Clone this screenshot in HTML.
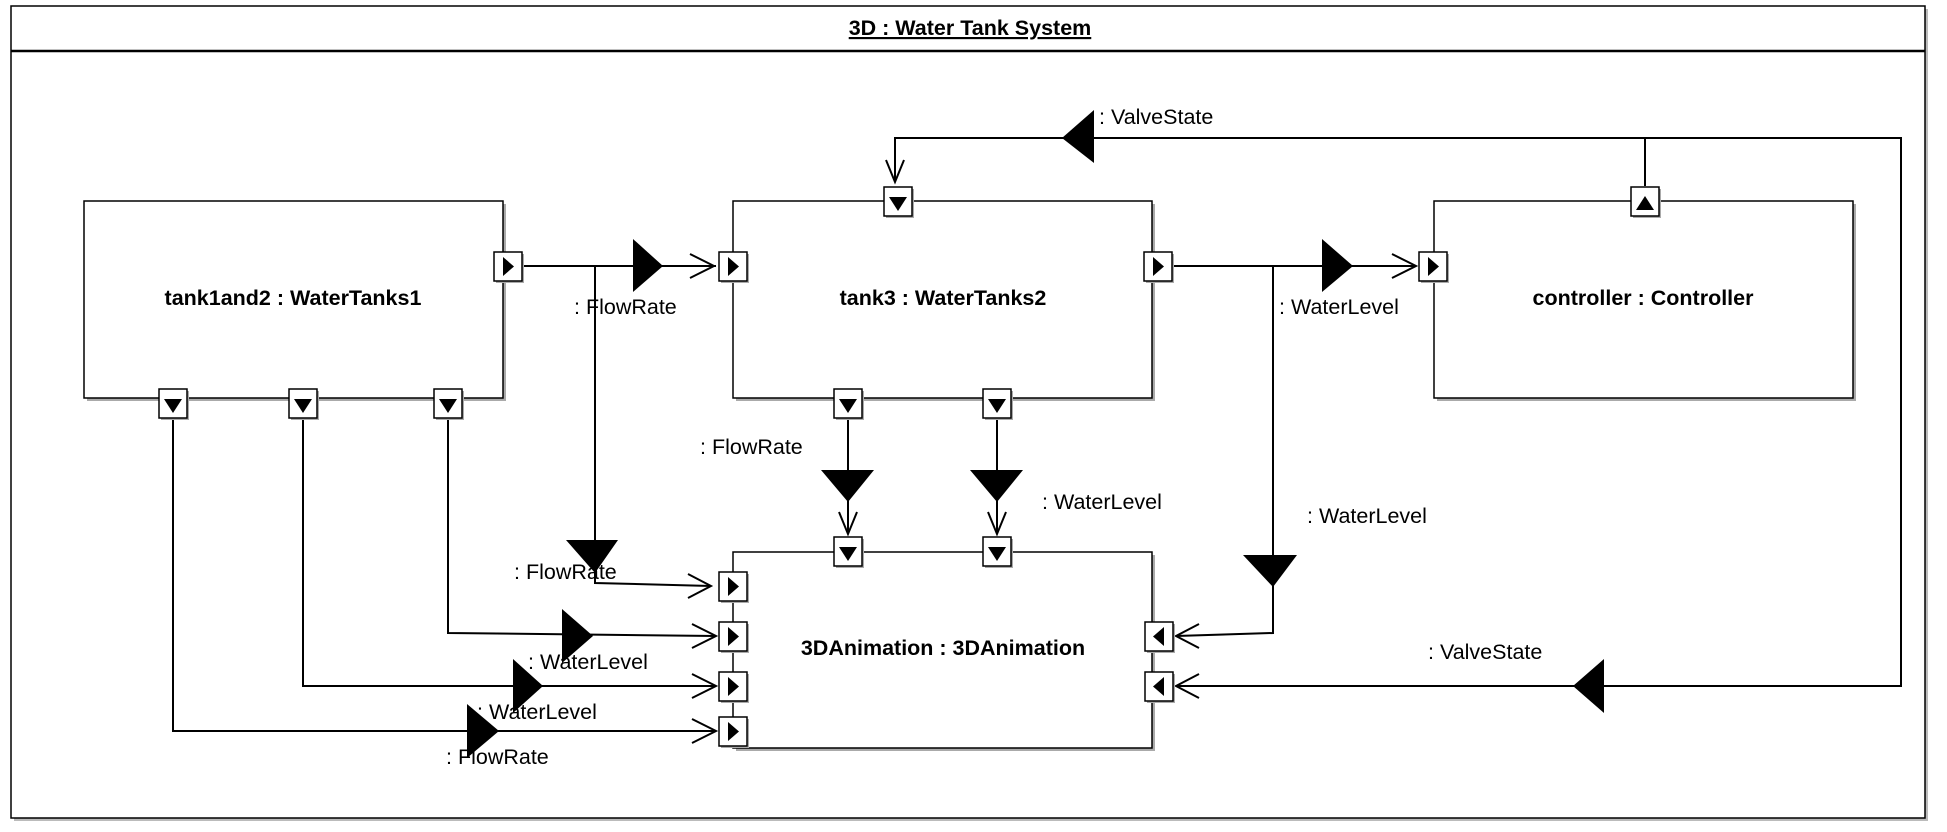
<!DOCTYPE html>
<html><head><meta charset="utf-8"><style>
html,body{margin:0;padding:0;background:#fff;}
svg{display:block;}
text{font-family:"Liberation Sans",Arial,sans-serif;fill:#000;}
.l{font-size:21.5px;}
.b{font-size:21.5px;font-weight:bold;}
</style></head><body>
<svg width="1947" height="832" viewBox="0 0 1947 832" xmlns="http://www.w3.org/2000/svg">
<defs>
<g id="pr"><rect x="2" y="2" width="28" height="29" fill="#aaa"/><rect x="0" y="0" width="28" height="29" fill="#fff" stroke="#000" stroke-width="1.5"/><polygon points="9,5 20,14.5 9,24" fill="#000"/></g>
<g id="pl"><rect x="2" y="2" width="28" height="29" fill="#aaa"/><rect x="0" y="0" width="28" height="29" fill="#fff" stroke="#000" stroke-width="1.5"/><polygon points="19,5 8,14.5 19,24" fill="#000"/></g>
<g id="pd"><rect x="2" y="2" width="28" height="29" fill="#aaa"/><rect x="0" y="0" width="28" height="29" fill="#fff" stroke="#000" stroke-width="1.5"/><polygon points="5,10 23,10 14,24" fill="#000"/></g>
<g id="pu"><rect x="2" y="2" width="28" height="29" fill="#aaa"/><rect x="0" y="0" width="28" height="29" fill="#fff" stroke="#000" stroke-width="1.5"/><polygon points="5,23 23,23 14,9" fill="#000"/></g>
</defs>
<!-- frame -->
<rect x="14" y="9" width="1914" height="812" fill="#bbb"/>
<rect x="11" y="6" width="1914" height="812" fill="#fff" stroke="#000" stroke-width="1.5"/>
<line x1="11" y1="51" x2="1925" y2="51" stroke="#000" stroke-width="2.5"/>
<text x="970" y="35" text-anchor="middle" class="b" style="text-decoration:underline">3D : Water Tank System</text>

<!-- boxes with shadows -->
<g fill="#fff" stroke="#000" stroke-width="1.5">
<rect x="87" y="204" width="419" height="197" fill="#aaa" stroke="none"/>
<rect x="84" y="201" width="419" height="197"/>
<rect x="736" y="204" width="419" height="197" fill="#aaa" stroke="none"/>
<rect x="733" y="201" width="419" height="197"/>
<rect x="1437" y="204" width="419" height="197" fill="#aaa" stroke="none"/>
<rect x="1434" y="201" width="419" height="197"/>
<rect x="736" y="555" width="419" height="196" fill="#aaa" stroke="none"/>
<rect x="733" y="552" width="419" height="196"/>
</g>
<text x="293" y="305" text-anchor="middle" class="b">tank1and2 : WaterTanks1</text>
<text x="943" y="305" text-anchor="middle" class="b">tank3 : WaterTanks2</text>
<text x="1643" y="305" text-anchor="middle" class="b">controller : Controller</text>
<text x="943" y="655" text-anchor="middle" class="b">3DAnimation : 3DAnimation</text>

<!-- connectors -->
<g fill="none" stroke="#000" stroke-width="2">
<line x1="523" y1="266" x2="716" y2="266"/>
<polyline points="690,254 714,266 690,278"/>
<polyline points="595,266 595,583 711,586"/>
<polyline points="688,574 711,586 688,598"/>
<line x1="1173" y1="266" x2="1416" y2="266"/>
<polyline points="1392,254 1416,266 1392,278"/>
<polyline points="1273,266 1273,633 1176,636"/>
<polyline points="1199,624 1176,636 1199,648"/>
<polyline points="1645,186 1645,138 895,138 895,182"/>
<polyline points="886,160 895,182 904,160"/>
<polyline points="1645,138 1901,138 1901,686 1176,686"/>
<polyline points="1199,674 1176,686 1199,698"/>
<line x1="848" y1="418" x2="848" y2="534"/>
<polyline points="839,512 848,534 857,512"/>
<line x1="997" y1="418" x2="997" y2="534"/>
<polyline points="988,512 997,534 1006,512"/>
<polyline points="448,418 448,633 716,636"/>
<polyline points="692,624 716,636 692,648"/>
<polyline points="303,418 303,686 716,686"/>
<polyline points="692,674 716,686 692,698"/>
<polyline points="173,418 173,731 716,731"/>
<polyline points="692,719 716,731 692,743"/>
</g>
<g fill="#000">
<polygon points="633,239 663,266 633,292"/>
<polygon points="1322,239 1353,266 1322,292"/>
<polygon points="1094,110 1062,138 1094,163"/>
<polygon points="1604,659 1573,686 1604,713"/>
<polygon points="1243,555 1297,555 1273,587"/>
<polygon points="566,540 618,540 595,573"/>
<polygon points="821,470 874,470 848,502"/>
<polygon points="970,470 1023,470 997,502"/>
<polygon points="562,609 593,636 562,663"/>
<polygon points="513,659 543,686 513,713"/>
<polygon points="467,704 499,731 467,758"/>
</g>

<use href="#pr" x="494" y="252"/>
<use href="#pr" x="719" y="252"/>
<use href="#pr" x="1144" y="252"/>
<use href="#pr" x="1419" y="252"/>
<use href="#pd" x="884" y="187"/>
<use href="#pu" x="1631" y="187"/>
<use href="#pd" x="159" y="389"/>
<use href="#pd" x="289" y="389"/>
<use href="#pd" x="434" y="389"/>
<use href="#pd" x="834" y="389"/>
<use href="#pd" x="983" y="389"/>
<use href="#pd" x="834" y="537"/>
<use href="#pd" x="983" y="537"/>
<use href="#pr" x="719" y="572"/>
<use href="#pr" x="719" y="622"/>
<use href="#pr" x="719" y="672"/>
<use href="#pr" x="719" y="717"/>
<use href="#pl" x="1145" y="622"/>
<use href="#pl" x="1145" y="672"/>

<g class="l">
<text x="574" y="314">: FlowRate</text>
<text x="1099" y="124">: ValveState</text>
<text x="1279" y="314">: WaterLevel</text>
<text x="700" y="454">: FlowRate</text>
<text x="1042" y="509">: WaterLevel</text>
<text x="1307" y="523">: WaterLevel</text>
<text x="1428" y="659">: ValveState</text>
<text x="514" y="579">: FlowRate</text>
<text x="528" y="669">: WaterLevel</text>
<text x="477" y="719">: WaterLevel</text>
<text x="446" y="764">: FlowRate</text>
</g>
</svg>
</body></html>
